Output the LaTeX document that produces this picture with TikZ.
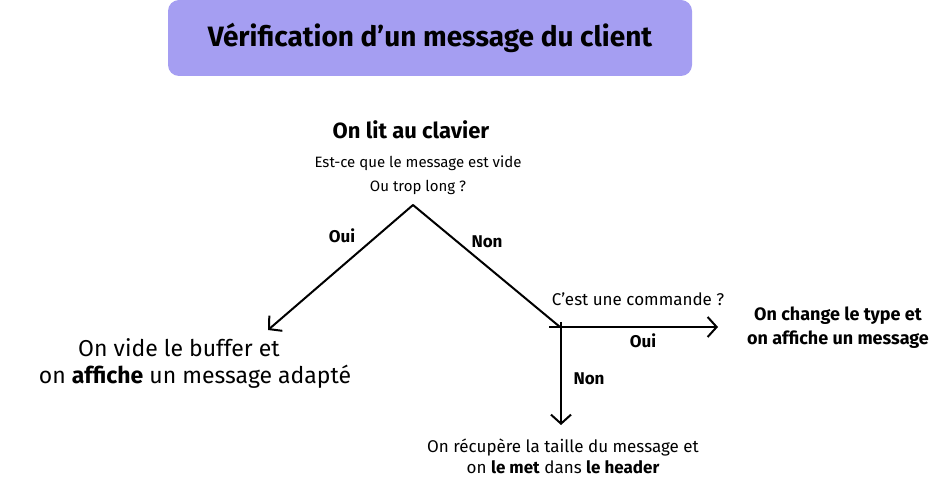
\documentclass[tikz,border=0pt]{standalone}
\usepackage{fontspec}
\setmainfont{Fira Sans}
\usetikzlibrary{arrows.meta}
\definecolor{titlefill}{HTML}{A59EF2}
\tikzset{
  conn/.style={line width=2pt, draw=black},
  arr/.style={conn, -{Straight Barb[length=9pt,width=20pt,line width=2pt]}},
  lbl/.style={font=\bfseries\fontsize{17}{20}\selectfont, inner sep=0pt},
  txt/.style={align=center, inner sep=0pt},
  bigtxt/.style={txt, font=\fontsize{23}{28}\selectfont},
}
\begin{document}
\begin{tikzpicture}[x=1pt,y=-1pt]
\useasboundingbox (0,0) rectangle (932,486);
\node[fill=titlefill, rounded corners=11pt, minimum width=524pt, minimum height=76pt, inner sep=0pt,
  font=\fontsize{28}{32}\selectfont\bfseries] (title) at (430,38) {Vérification d’un message du client};
\node[txt, font=\bfseries\fontsize{22}{26}\selectfont] (lit) at (411,130) {On lit au clavier};
\node[txt, font=\fontsize{15}{24}\selectfont] (q1) at (418,175) {Est-ce que le message est vide\\Ou trop long ?};
\coordinate (apex) at (413,205);
\coordinate (leftend) at (268,330);
\coordinate (junc) at (560,327);
\coordinate (hstart) at (549,327);
\coordinate (rightend) at (718,327);
\coordinate (downend) at (561,425);
\draw[conn, line cap=round] (apex) -- (junc);
\draw[arr] (apex) -- (leftend);
\draw[arr] (hstart) -- (rightend);
\draw[arr] (561,322) -- (downend);
\node[lbl] (oui1) at (342,236) {Oui};
\node[lbl] (non1) at (487,242) {Non};
\node[txt, font=\fontsize{17}{20}\selectfont] (q2) at (638,299) {C’est une commande ?};
\node[lbl] (oui2) at (643,341) {Oui};
\node[lbl] (non2) at (589,379) {Non};
\node[txt, font=\bfseries\fontsize{18}{24}\selectfont] (cmd) at (838,328) {On change le type et\\on affiche un message};
\node[bigtxt] (vide1) at (179,348) {On vide le buffer et};
\node[bigtxt] (vide2) at (195,377) {on \textbf{affiche} un message adapté};
\node[txt, font=\fontsize{17}{21}\selectfont] (hdr) at (563,456) {On récupère la taille du message et\\on \textbf{le met} dans \textbf{le header}};
\end{tikzpicture}
\end{document}
